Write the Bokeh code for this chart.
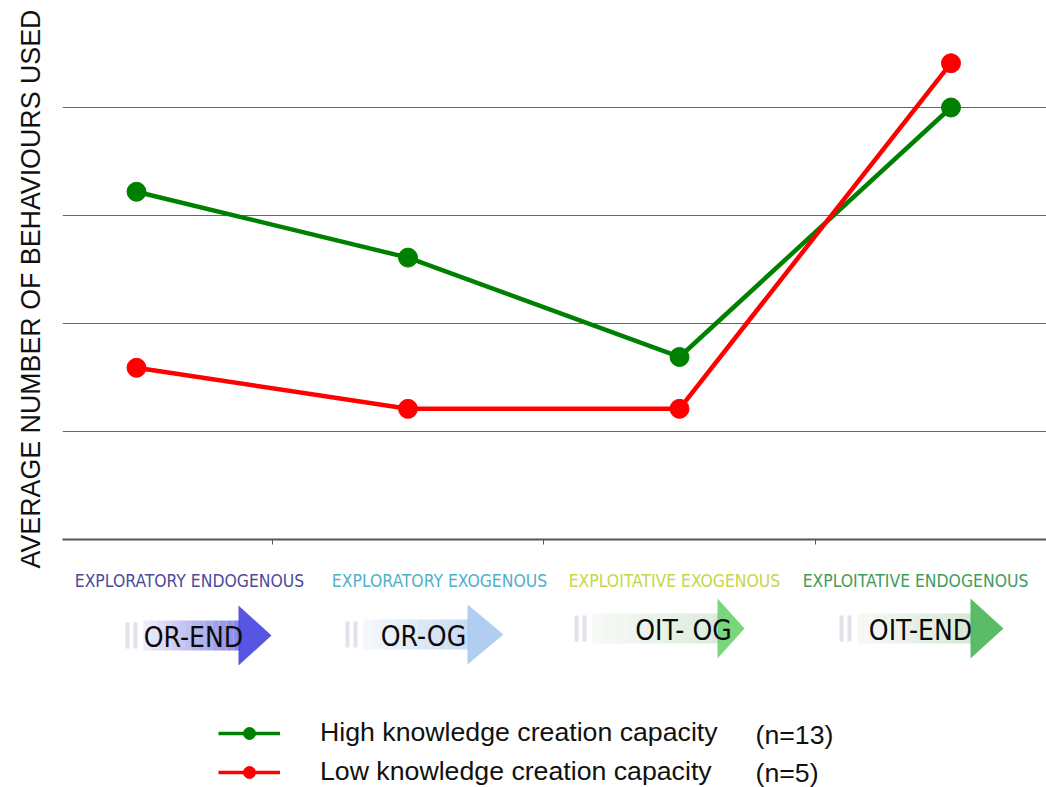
import math
import numpy as np
from bokeh.plotting import figure
from bokeh.models import Range1d, FixedTicker, Legend, LegendItem, ColumnDataSource, Grid
from bokeh.layouts import column, row
from bokeh.embed import file_html
from bokeh.resources import INLINE
from bokeh.core.properties import value

# ---------------- data ----------------
categories = ["OR-END", "OR-OG", "OIT- OG", "OIT-END"]
category_names = ["EXPLORATORY ENDOGENOUS", "EXPLORATORY EXOGENOUS",
                  "EXPLOITATIVE EXOGENOUS", "EXPLOITATIVE ENDOGENOUS"]
high_values = [3.22, 2.61, 1.69, 4.00]
low_values = [1.59, 1.21, 1.21, 4.41]
series_labels = ["High knowledge creation capacity", "Low knowledge creation capacity"]
series_counts = ["(n=13)", "(n=5)"]
grid_levels = [0, 1, 2, 3, 4]
y_title = "AVERAGE NUMBER OF BEHAVIOURS USED"

# ---------------- layout constants ----------------
W0, W1 = 62, 984
BOTTOM1 = 10
H1 = 539 + BOTTOM1
H2 = 787 - H1
HT = H1 + H2
PX = 271.5            # pixels per category
X0_IMG = 136          # image x of first category centre
GREEN, RED = "#008000", "#ff0000"
SANS = "Liberation Sans, Arial, Helvetica, sans-serif"
NARROW = "Liberation Sans Narrow, DejaVu Sans Condensed, Roboto Condensed, sans-serif"


def img_x(ix):
    return (ix - X0_IMG) / PX


def img_y2(iy):
    return H2 - (iy - H1)


xr = Range1d(img_x(62), img_x(1046))

# ---------------- y title panel ----------------
p0 = figure(width=W0, height=HT, x_range=Range1d(0, W0), y_range=Range1d(0, HT),
            x_axis_type=None, y_axis_type=None, output_backend="svg",
            toolbar_location=None, min_border=0)
p0.outline_line_color = None
p0.text(x=[30], y=[HT - 288.5], text=[y_title], angle=math.pi / 2,
        text_align="center", text_baseline="middle",
        text_font=value(SANS), text_font_size="26.8px", text_color="#111111")

# ---------------- main chart ----------------
p1 = figure(width=W1, height=H1, x_range=xr, y_range=Range1d(0, 539 / 108.0),
            y_axis_type=None, output_backend="svg", toolbar_location=None,
            min_border_left=0, min_border_right=0, min_border_top=0,
            min_border_bottom=BOTTOM1)
p1.outline_line_color = None
p1.xgrid.visible = False
p1.add_layout(Grid(dimension=1, ticker=FixedTicker(ticks=grid_levels),
                   grid_line_color="#666666", grid_line_width=1))
ax = p1.xaxis[0]
ax.ticker = FixedTicker(ticks=[0.5, 1.5, 2.5])
ax.major_label_overrides = {0.5: "", 1.5: "", 2.5: ""}
ax.major_label_text_font_size = "1px"
ax.major_label_standoff = 0
ax.major_tick_out = 5
ax.major_tick_in = 0
ax.minor_tick_line_color = None
ax.axis_line_color = "#555555"
ax.axis_line_width = 2
ax.major_tick_line_color = "#555555"

xs = list(range(len(categories)))
src = ColumnDataSource(dict(x=xs, high=high_values, low=low_values))
p1.line("x", "high", source=src, color=GREEN, line_width=4.5)
p1.scatter("x", "high", source=src, size=19, color=GREEN)
p1.line("x", "low", source=src, color=RED, line_width=4.5)
p1.scatter("x", "low", source=src, size=19, color=RED)

# ---------------- category strip + legend ----------------
p2 = figure(width=W1, height=H2, x_range=xr, y_range=Range1d(0, H2),
            x_axis_type=None, y_axis_type=None, output_backend="svg",
            toolbar_location=None, min_border=0)
p2.outline_line_color = None

name_x_img = [189, 439, 674, 915]
name_colors = ["#4b4b9c", "#4fb0c8", "#c5d64a", "#3f9c5c"]
p2.text(x=[img_x(v) for v in name_x_img], y=[img_y2(580)] * 4, text=category_names,
        text_color=name_colors, text_align="center", text_baseline="middle",
        text_font=value(NARROW), text_font_size="17.4px")

arrows = [
    dict(bl=143, hl=238, ap=271, yc=635, c0=(236, 236, 250), c1=(138, 138, 232), head="#4444e0"),
    dict(bl=363, hl=467, ap=503, yc=634, c0=(244, 247, 252), c1=(200, 220, 242), head="#a8c8ee"),
    dict(bl=592, hl=717, ap=744, yc=628, c0=(246, 249, 246), c1=(220, 236, 220), head="#6cd26c"),
    dict(bl=857, hl=970, ap=1003, yc=628, c0=(246, 248, 246), c1=(214, 232, 214), head="#48b458"),
]


def hexc(c):
    return "#%02x%02x%02x" % tuple(int(round(v)) for v in c)


for a in arrows:
    n = 14
    edges = np.linspace(a["bl"], a["hl"] + 2, n + 1)
    cols = [hexc([a["c0"][k] + (a["c1"][k] - a["c0"][k]) * i / (n - 1) for k in range(3)])
            for i in range(n)]
    p2.quad(left=[img_x(v) for v in edges[:-1]], right=[img_x(v) for v in edges[1:]],
            top=[img_y2(a["yc"] - 15)] * n, bottom=[img_y2(a["yc"] + 15)] * n,
            fill_color=cols, line_color=None)
    for l0 in (a["bl"] - 18, a["bl"] - 10):
        p2.quad(left=[img_x(l0)], right=[img_x(l0 + 4)], top=[img_y2(a["yc"] - 13)],
                bottom=[img_y2(a["yc"] + 13)], fill_color="#d6d6e4", fill_alpha=0.7,
                line_color=None)
    p2.patch(x=[img_x(a["hl"]), img_x(a["ap"]), img_x(a["hl"])],
             y=[img_y2(a["yc"] - 30), img_y2(a["yc"]), img_y2(a["yc"] + 30)],
             fill_color=a["head"], fill_alpha=0.9, line_color=None)

code_x_img = [193, 423, 683, 920]
code_y_img = [637, 636, 630, 630]
p2.text(x=[img_x(v) for v in code_x_img], y=[img_y2(v) for v in code_y_img], text=categories,
        text_color="#0a0a0a", text_align="center", text_baseline="middle",
        text_font=value(NARROW), text_font_size="28px")

# legend (dummy renderers without visible data)
gl = p2.line(x=[np.nan], y=[np.nan], color=GREEN, line_width=3.5)
gs = p2.scatter(x=[np.nan], y=[np.nan], size=11, color=GREEN)
rl = p2.line(x=[np.nan], y=[np.nan], color=RED, line_width=3.5)
rs = p2.scatter(x=[np.nan], y=[np.nan], size=11, color=RED)
legend = Legend(items=[LegendItem(label=series_labels[0], renderers=[gl, gs]),
                       LegendItem(label=series_labels[1], renderers=[rl, rs])],
                location=(156, 0), glyph_width=62, glyph_height=30, label_standoff=40,
                spacing=8, padding=0, margin=0, border_line_color=None,
                background_fill_alpha=0, label_text_font=SANS,
                label_text_font_size="26.7px", label_text_color="#111111")
p2.add_layout(legend)

p2.text(x=[img_x(755)] * 2, y=[img_y2(734), img_y2(772)], text=series_counts,
        text_color="#111111", text_align="left", text_baseline="middle",
        text_font=value(SANS), text_font_size="26.7px")

layout = row(p0, column(p1, p2))
open("out.html", "w").write(file_html(layout, INLINE))
